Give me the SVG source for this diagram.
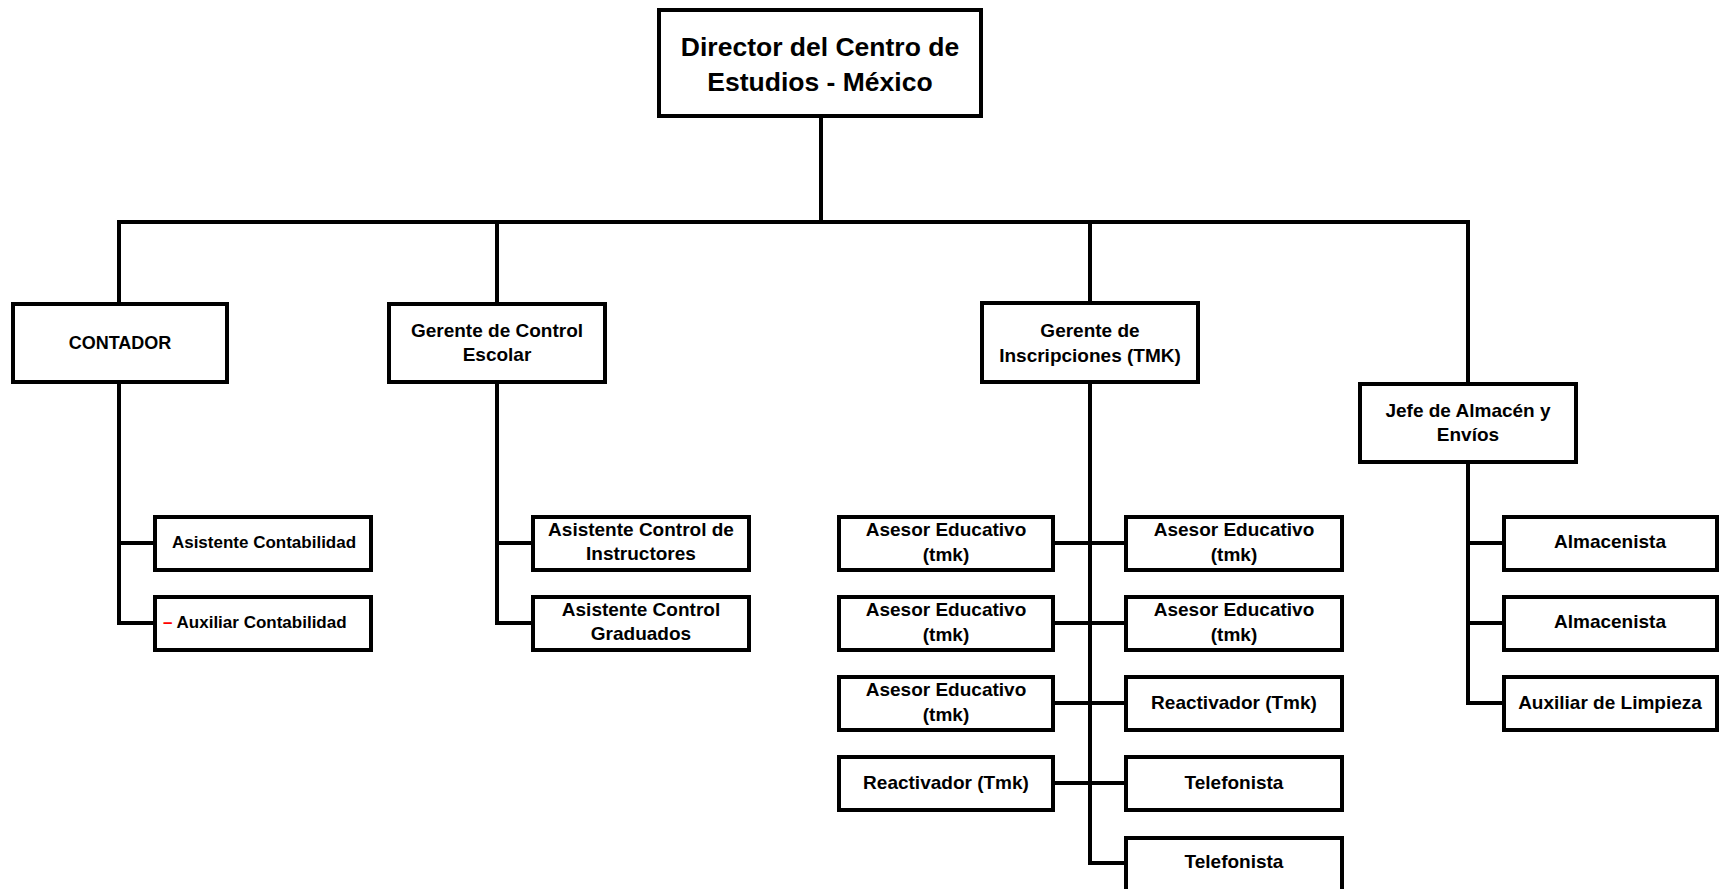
<svg xmlns="http://www.w3.org/2000/svg" width="1720" height="889" viewBox="0 0 1720 889">
<style>
  .box { fill: #fff; stroke: #000; stroke-width: 4; }
  .ln { fill: none; stroke: #000; stroke-width: 4; stroke-linejoin: miter; }
  text { font-family: "Liberation Sans", Arial, sans-serif; font-weight: bold; fill: #000; text-anchor: middle; }
  .t19 { font-size: 19px; }
  .t17 { font-size: 17px; }
  .t18 { font-size: 18px; }
  .big { font-size: 26.5px; }
  .red { fill: #ff0000; }
</style>
<rect width="1720" height="889" fill="#fff"/>
<g id="connectors">
  <path class="ln" d="M821,118 V222"/>
  <path class="ln" d="M119,302 V222 H1468 V382"/>
  <path class="ln" d="M497,222 V302"/>
  <path class="ln" d="M1090,222 V301"/>
  <path class="ln" d="M119,384 V623 H153"/>
  <path class="ln" d="M119,543 H153"/>
  <path class="ln" d="M497,384 V623 H531"/>
  <path class="ln" d="M497,543 H531"/>
  <path class="ln" d="M1090,384 V863 H1124"/>
  <path class="ln" d="M1055,543 H1124"/>
  <path class="ln" d="M1055,623 H1124"/>
  <path class="ln" d="M1055,703 H1124"/>
  <path class="ln" d="M1055,783 H1124"/>
  <path class="ln" d="M1468,464 V703 H1502"/>
  <path class="ln" d="M1468,543 H1502"/>
  <path class="ln" d="M1468,623 H1502"/>
</g>
<g id="director">
  <rect class="box" x="659" y="10" width="322" height="106"/>
  <text class="big" x="820" y="56">Director del Centro de</text>
  <text class="big" x="820" y="91">Estudios - México</text>
</g>
<g id="contador">
  <rect class="box" x="13" y="304" width="214" height="78"/>
  <text class="t18" x="120" y="349">CONTADOR</text>
</g>
<g id="gerente-control-escolar">
  <rect class="box" x="389" y="304" width="216" height="78"/>
  <text class="t19" x="497" y="337">Gerente de Control</text>
  <text class="t19" x="497" y="361">Escolar</text>
</g>
<g id="gerente-inscripciones">
  <rect class="box" x="982" y="303" width="216" height="79"/>
  <text class="t19" x="1090" y="337">Gerente de</text>
  <text class="t19" x="1090" y="362">Inscripciones (TMK)</text>
</g>
<g id="jefe-almacen">
  <rect class="box" x="1360" y="384" width="216" height="78"/>
  <text class="t19" x="1468" y="417">Jefe de Almacén y</text>
  <text class="t19" x="1468" y="441">Envíos</text>
</g>
<g id="asistente-contabilidad">
  <rect class="box" x="155" y="517" width="216" height="53"/>
  <text class="t17" x="264" y="548">Asistente Contabilidad</text>
</g>
<g id="auxiliar-contabilidad">
  <rect class="box" x="155" y="597" width="216" height="53"/>
  <text class="t17" x="163" y="628" style="text-anchor:start"><tspan class="red">–</tspan> Auxiliar Contabilidad</text>
</g>
<g id="asistente-instructores">
  <rect class="box" x="533" y="517" width="216" height="53"/>
  <text class="t19" x="641" y="536">Asistente Control de</text>
  <text class="t19" x="641" y="560">Instructores</text>
</g>
<g id="asistente-graduados">
  <rect class="box" x="533" y="597" width="216" height="53"/>
  <text class="t19" x="641" y="616">Asistente Control</text>
  <text class="t19" x="641" y="640">Graduados</text>
</g>
<g id="asesor-l1">
  <rect class="box" x="839" y="517" width="214" height="53"/>
  <text class="t19" x="946" y="536">Asesor Educativo</text>
  <text class="t19" x="946" y="561">(tmk)</text>
</g>
<g id="asesor-l2">
  <rect class="box" x="839" y="597" width="214" height="53"/>
  <text class="t19" x="946" y="616">Asesor Educativo</text>
  <text class="t19" x="946" y="641">(tmk)</text>
</g>
<g id="asesor-l3">
  <rect class="box" x="839" y="677" width="214" height="53"/>
  <text class="t19" x="946" y="696">Asesor Educativo</text>
  <text class="t19" x="946" y="721">(tmk)</text>
</g>
<g id="reactivador-l4">
  <rect class="box" x="839" y="757" width="214" height="53"/>
  <text class="t19" x="946" y="789">Reactivador (Tmk)</text>
</g>
<g id="asesor-r1">
  <rect class="box" x="1126" y="517" width="216" height="53"/>
  <text class="t19" x="1234" y="536">Asesor Educativo</text>
  <text class="t19" x="1234" y="561">(tmk)</text>
</g>
<g id="asesor-r2">
  <rect class="box" x="1126" y="597" width="216" height="53"/>
  <text class="t19" x="1234" y="616">Asesor Educativo</text>
  <text class="t19" x="1234" y="641">(tmk)</text>
</g>
<g id="reactivador-r3">
  <rect class="box" x="1126" y="677" width="216" height="53"/>
  <text class="t19" x="1234" y="709">Reactivador (Tmk)</text>
</g>
<g id="telefonista-r4">
  <rect class="box" x="1126" y="757" width="216" height="53"/>
  <text class="t19" x="1234" y="789">Telefonista</text>
</g>
<g id="telefonista-r5">
  <rect class="box" x="1126" y="838" width="216" height="70"/>
  <text class="t19" x="1234" y="868">Telefonista</text>
</g>
<g id="almacenista-1">
  <rect class="box" x="1504" y="517" width="213" height="53"/>
  <text class="t19" x="1610" y="548">Almacenista</text>
</g>
<g id="almacenista-2">
  <rect class="box" x="1504" y="597" width="213" height="53"/>
  <text class="t19" x="1610" y="628">Almacenista</text>
</g>
<g id="auxiliar-limpieza">
  <rect class="box" x="1504" y="677" width="213" height="53"/>
  <text class="t19" x="1610" y="709">Auxiliar de Limpieza</text>
</g>
</svg>
